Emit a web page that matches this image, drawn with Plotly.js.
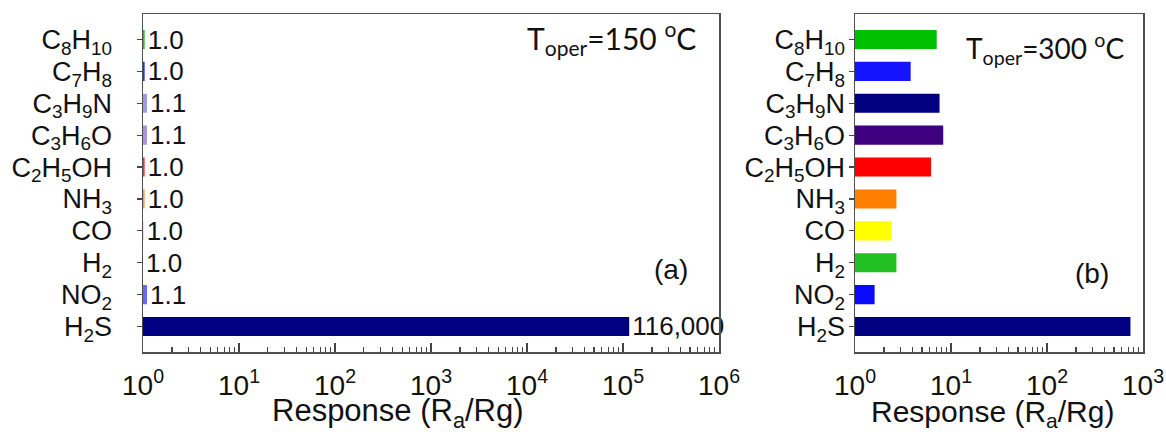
<!DOCTYPE html>
<html>
<head>
<meta charset="utf-8">
<script src="https://cdn.plot.ly/plotly-3.0.1.min.js"></script>
<style>html,body{margin:0;padding:0;background:#fff;}#chart{width:1166px;height:432px;}</style>
</head>
<body>
<div id="chart"></div>
<script>
const gases = ['C<sub>8</sub>H<sub>10</sub>', 'C<sub>7</sub>H<sub>8</sub>', 'C<sub>3</sub>H<sub>9</sub>N', 'C<sub>3</sub>H<sub>6</sub>O', 'C<sub>2</sub>H<sub>5</sub>OH', 'NH<sub>3</sub>', 'CO', 'H<sub>2</sub>', 'NO<sub>2</sub>', 'H<sub>2</sub>S'];
const response150 = [1.04, 1.04, 1.1, 1.1, 1.04, 1.04, 1.02, 1.0, 1.1, 116000];
const labels150 = ['1.0', '1.0', '1.1', '1.1', '1.0', '1.0', '1.0', '1.0', '1.1', '116,000'];
const response300 = [7.1, 3.8, 7.6, 8.3, 6.2, 2.7, 2.4, 2.7, 1.6, 740];
const colors150 = ['#22c022', '#2a2aff', '#9c9ce0', '#a996d8', '#ff3030', '#ff9933', '#ffff00', '#33cc33', '#6868ff', '#000080'];
const colors300 = ['#00c000', '#1414ff', '#000080', '#3f007f', '#ff0000', '#ff8000', '#ffff00', '#22c022', '#0a0aff', '#000080'];
const decadeTicks150 = ['10<sup>0</sup>', '10<sup>1</sup>', '10<sup>2</sup>', '10<sup>3</sup>', '10<sup>4</sup>', '10<sup>5</sup>', '10<sup>6</sup>'];
const decadeTicks300 = ['10<sup>0</sup>', '10<sup>1</sup>', '10<sup>2</sup>', '10<sup>3</sup>'];

function decades(n) { const v = []; for (let i = 0; i <= n; i++) v.push(Math.pow(10, i)); return v; }
function minors(n) { const v = []; for (let i = 0; i < n; i++) for (let k = 2; k <= 9; k++) v.push(k * Math.pow(10, i)); return v; }

const W = 1166, plotTop = 14, plotBottom = 352, plotH = plotBottom - plotTop;
const px = x => x / W;
const py = y => (plotBottom - y) / plotH;

const FONT = 'Liberation Sans, Arial, sans-serif';

const traces = [
  {
    type: 'bar', orientation: 'h', y: gases, x: response150, xaxis: 'x', yaxis: 'y',
    marker: {color: colors150}, text: labels150, textposition: 'outside',
    textfont: {family: FONT, size: 26, color: '#111'}, constraintext: 'none', cliponaxis: false,
    hoverinfo: 'none'
  },
  {
    type: 'bar', orientation: 'h', y: gases, x: response300, xaxis: 'x2', yaxis: 'y2',
    marker: {color: colors300}, hoverinfo: 'none'
  }
];

const xBase = {
  type: 'log', showgrid: false, zeroline: false, showline: true, mirror: true,
  linecolor: '#505050', linewidth: 1.5, ticks: 'inside', ticklen: 9, tickwidth: 1.3, tickcolor: '#444',
  tickfont: {family: FONT, size: 28, color: '#111'}, ticklabelstandoff: 8, automargin: false,
  minor: {ticks: 'inside', ticklen: 5, tickwidth: 1.2, tickcolor: '#444', showgrid: false}
};
const yBase = {
  type: 'category', range: [9.8, -0.8], tickmode: 'array', tickvals: gases,
  showgrid: false, zeroline: false, showline: true, mirror: true,
  linecolor: '#505050', linewidth: 1.5, ticks: 'outside', ticklen: 5, tickwidth: 1.3, tickcolor: '#444',
  tickfont: {family: FONT, size: 27, color: '#111'}, automargin: false
};

const layout = {
  width: 1166, height: 432,
  margin: {l: 0, r: 0, t: plotTop, b: 432 - plotBottom},
  paper_bgcolor: '#fff', plot_bgcolor: '#fff',
  showlegend: false, bargap: 0.4,
  xaxis: Object.assign({}, xBase, {
    domain: [px(143), px(719)], range: [0, 6], anchor: 'y',
    tickmode: 'array', tickvals: decades(6), ticktext: decadeTicks150,
    minor: Object.assign({}, xBase.minor, {tickmode: 'array', tickvals: minors(6)})
  }),
  yaxis: Object.assign({}, yBase, {domain: [0, 1], anchor: 'x', ticklabelstandoff: 19}),
  xaxis2: Object.assign({}, xBase, {
    domain: [px(855), px(1143)], range: [0, 3], anchor: 'y2',
    tickmode: 'array', tickvals: decades(3), ticktext: decadeTicks300,
    minor: Object.assign({}, xBase.minor, {tickmode: 'array', tickvals: minors(3)})
  }),
  yaxis2: Object.assign({}, yBase, {domain: [0, 1], anchor: 'x2', ticklabelstandoff: -2}),
  annotations: [
    {xref: 'paper', yref: 'paper', x: px(698), y: py(38), xanchor: 'right', yanchor: 'middle', showarrow: false,
     text: 'T<sub>oper</sub>=150 <sup>o</sup>C', font: {family: 'Lato, Open Sans, sans-serif', size: 30, color: '#111'}},
    {xref: 'paper', yref: 'paper', x: px(1126), y: py(49), xanchor: 'right', yanchor: 'middle', showarrow: false,
     text: 'T<sub>oper</sub>=300 <sup>o</sup>C', font: {family: 'Lato, Open Sans, sans-serif', size: 28, color: '#111'}},
    {xref: 'paper', yref: 'paper', x: px(671), y: py(269), xanchor: 'center', yanchor: 'middle', showarrow: false,
     text: '(a)', font: {family: FONT, size: 28, color: '#111'}},
    {xref: 'paper', yref: 'paper', x: px(1092), y: py(273), xanchor: 'center', yanchor: 'middle', showarrow: false,
     text: '(b)', font: {family: FONT, size: 28, color: '#111'}},
    {xref: 'paper', yref: 'paper', x: px(398), y: py(413), xanchor: 'center', yanchor: 'middle', showarrow: false,
     text: 'Response (R<sub>a</sub>/Rg)', font: {family: FONT, size: 31, color: '#111'}},
    {xref: 'paper', yref: 'paper', x: px(992), y: py(413), xanchor: 'center', yanchor: 'middle', showarrow: false,
     text: 'Response (R<sub>a</sub>/Rg)', font: {family: FONT, size: 30, color: '#111'}}
  ]
};

Plotly.newPlot('chart', traces, layout, {staticPlot: true, displayModeBar: false});
</script>
</body>
</html>
